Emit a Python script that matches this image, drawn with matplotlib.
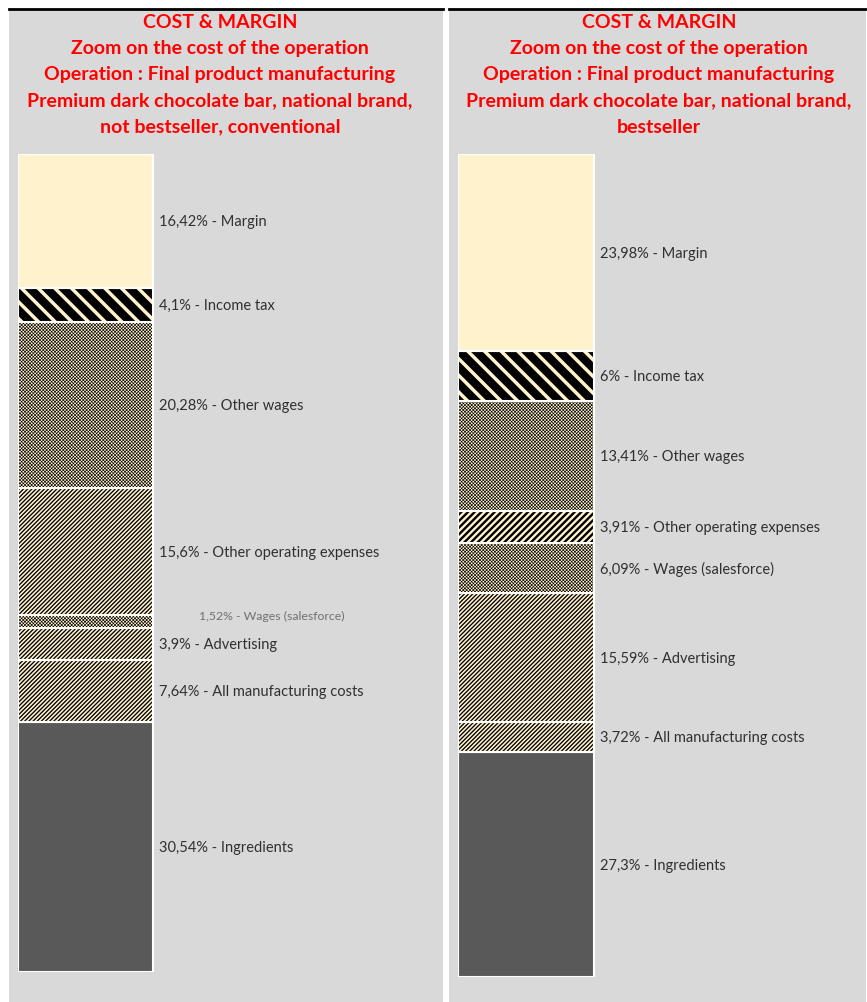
import matplotlib.pyplot as plt
from matplotlib.lines import Line2D

plt.rcParams['font.family'] = ['Lato', 'DejaVu Sans']

# segments, bottom to top
cats_left = ['Ingredients', 'All manufacturing costs', 'Advertising', 'Wages (salesforce)',
             'Other operating expenses', 'Other wages', 'Income tax', 'Margin']
vals_left = [30.54, 7.64, 3.9, 1.52, 15.6, 20.28, 4.1, 16.42]
labels_left = ['30,54%', '7,64%', '3,9%', '1,52%', '15,6%', '20,28%', '4,1%', '16,42%']

cats_right = ['Ingredients', 'All manufacturing costs', 'Advertising', 'Wages (salesforce)',
              'Other operating expenses', 'Other wages', 'Income tax', 'Margin']
vals_right = [27.3, 3.72, 15.59, 6.09, 3.91, 13.41, 6, 23.98]
labels_right = ['27,3%', '3,72%', '15,59%', '6,09%', '3,91%', '13,41%', '6%', '23,98%']

titles_left = ['COST & MARGIN', 'Zoom on the cost of the operation',
               'Operation : Final product manufacturing',
               'Premium dark chocolate bar, national brand,',
               'not bestseller, conventional']
titles_right = ['COST & MARGIN', 'Zoom on the cost of the operation',
                'Operation : Final product manufacturing',
                'Premium dark chocolate bar, national brand,',
                'bestseller']

CREAM = '#FFF2CC'
DARK = '#595959'
# (facecolor, hatch, hatch colour, hatch linewidth) per category
STYLE = {
    'Margin': (CREAM, None, None, 1.0),
    'Income tax': ('black', '\\\\', CREAM, 2.5),
    'Other wages': (CREAM, 'xxxxxxxxxx', 'black', 0.45),
    'Other operating expenses': (CREAM, '////////', 'black', 0.95),
    'Wages (salesforce)': (CREAM, 'xxxxxxxxxx', 'black', 0.45),
    'Advertising': (CREAM, '////////', 'black', 0.95),
    'All manufacturing costs': (CREAM, '////////', 'black', 0.95),
    'Ingredients': (DARK, None, None, 1.0),
}

W, H = 867, 1003
fig = plt.figure(figsize=(W / 100, H / 100), dpi=100)
fig.patch.set_facecolor('white')


def px_rect(x0, y0, x1, y1):
    return [x0 / W, 1 - y1 / H, (x1 - x0) / W, (y1 - y0) / H]


def draw_panel(panel_box, title_x, bar_box, bar_frac, cats, vals, labels, titles,
               small=(), override=None):
    bg = fig.add_axes(px_rect(*panel_box))
    bg.set_facecolor('#D9D9D9')
    bg.set_xlim(0, 1)
    bg.set_ylim(0, 1)
    bg.set_xticks([])
    bg.set_yticks([])
    for s in bg.spines.values():
        s.set_visible(False)
    # black line on top of the panel
    fig.add_artist(Line2D([panel_box[0] / W, panel_box[2] / W], [1 - (panel_box[1] - 1) / H] * 2,
                          color='black', lw=2))
    pw = panel_box[2] - panel_box[0]
    ph = panel_box[3] - panel_box[1]
    for i, t in enumerate(titles):
        ypx = 22 + i * 26.3 - panel_box[1]
        bg.text((title_x - panel_box[0]) / pw, 1 - ypx / ph, t, ha='center', va='center',
                color='#FF0000', fontsize=14, fontweight='bold')

    ax = fig.add_axes(px_rect(*bar_box))
    ax.set_xlim(0, 1)
    ax.set_ylim(0, 100)
    ax.axis('off')
    bottom = 0
    for c, v, lab in zip(cats, vals, labels):
        fc, hatch, hc, hlw = STYLE[c]
        if override and c in override:
            hatch, hlw = override[c]
        r = ax.bar(0, v, width=bar_frac, bottom=bottom, align='edge', color=fc,
                   edgecolor=hc if hc else fc, linewidth=0, hatch=hatch)[0]
        if hatch and hasattr(r, 'set_hatch_linewidth'):
            r.set_hatch_linewidth(hlw)
        ax.bar(0, v, width=bar_frac, bottom=bottom, align='edge', fill=False,
               edgecolor='white', linewidth=1.5)
        mid = bottom + v / 2
        if c in small:
            ax.text(bar_frac + 0.282, mid + 0.7, f'{lab} - {c}', ha='center', va='center',
                    fontsize=8.8, color='#707070')
        else:
            ax.text(bar_frac + 0.015, mid, f'{lab} - {c}', ha='left', va='center',
                    fontsize=10.5, color='#303030')
        bottom += v


draw_panel((9, 11, 443, 1003), 220, (18, 155, 440, 973), 0.32,
           cats_left, vals_left, labels_left, titles_left, small=('Wages (salesforce)',))
draw_panel((449, 11, 866, 1003), 659, (458, 155, 866, 978), 0.333,
           cats_right, vals_right, labels_right, titles_right,
           override={'Other operating expenses': ('/////', 1.7)})

fig.savefig('out.png', dpi=100, facecolor=fig.get_facecolor())
